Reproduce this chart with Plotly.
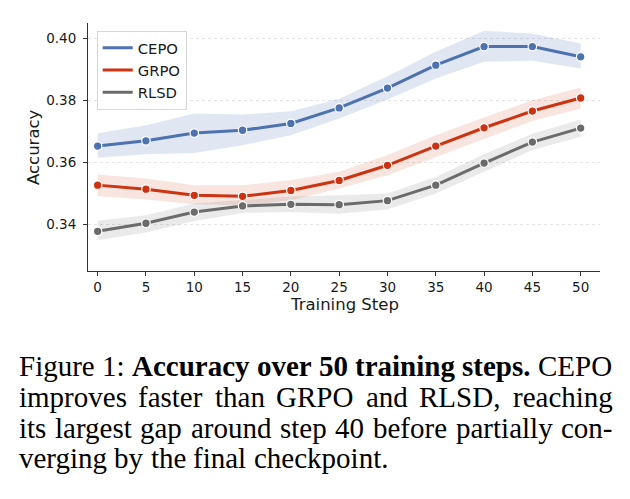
import plotly.graph_objects as go

# ---------------- data ----------------
steps = [0, 5, 10, 15, 20, 25, 30, 35, 40, 45, 50]
series_names = ["CEPO", "GRPO", "RLSD"]

cepo = [0.3653, 0.3670, 0.3695, 0.3704, 0.3726, 0.3776, 0.3840, 0.3914, 0.3974, 0.3974, 0.3941]
cepo_lo = [0.3615, 0.3627, 0.3631, 0.3656, 0.3688, 0.3742, 0.3803, 0.3871, 0.3925, 0.3928, 0.3903]
cepo_hi = [0.3694, 0.3720, 0.3758, 0.3755, 0.3765, 0.3806, 0.3878, 0.3957, 0.4025, 0.4016, 0.3984]

grpo = [0.3527, 0.3514, 0.3494, 0.3491, 0.3510, 0.3542, 0.3591, 0.3653, 0.3712, 0.3766, 0.3808]
grpo_lo = [0.3491, 0.3481, 0.3465, 0.3462, 0.3478, 0.3516, 0.3559, 0.3618, 0.3677, 0.3734, 0.3774]
grpo_hi = [0.3561, 0.3548, 0.3527, 0.3527, 0.3543, 0.3570, 0.3624, 0.3688, 0.3745, 0.3801, 0.3842]

rlsd = [0.3378, 0.3404, 0.3440, 0.3460, 0.3465, 0.3464, 0.3477, 0.3527, 0.3598, 0.3666, 0.3711]
rlsd_lo = [0.3349, 0.3374, 0.3411, 0.3437, 0.3440, 0.3435, 0.3448, 0.3500, 0.3570, 0.3640, 0.3683]
rlsd_hi = [0.3412, 0.3430, 0.3468, 0.3478, 0.3490, 0.3494, 0.3500, 0.3553, 0.3627, 0.3693, 0.3739]

x_ticks = [0, 5, 10, 15, 20, 25, 30, 35, 40, 45, 50]
y_ticks = [0.34, 0.36, 0.38, 0.40]

caption_lines = [
    [("Figure", False), ("1:", False), ("Accuracy", True), ("over", True), ("50", True),
     ("training", True), ("steps.", True), ("CEPO", False)],
    [("improves", False), ("faster", False), ("than", False), ("GRPO", False), ("and", False),
     ("RLSD,", False), ("reaching", False)],
    [("its", False), ("largest", False), ("gap", False), ("around", False), ("step", False),
     ("40", False), ("before", False), ("partially", False), ("con-", False)],
    [("verging", False), ("by", False), ("the", False), ("final", False), ("checkpoint.", False)],
]

# ---------------- styles ----------------
colors = {"CEPO": "#4C72B0", "GRPO": "#CC3311", "RLSD": "#6B6B6B"}
bands = {"CEPO": "rgba(76,114,176,0.17)", "GRPO": "rgba(204,51,17,0.13)", "RLSD": "rgba(107,107,107,0.14)"}
values = {"CEPO": (cepo, cepo_lo, cepo_hi), "GRPO": (grpo, grpo_lo, grpo_hi), "RLSD": (rlsd, rlsd_lo, rlsd_hi)}

W, H = 630, 499
L, R, T, B = 88, 30, 23, 228
PW, PH = W - L - R, H - T - B


def px_x(px):
    return (px - L) / PW


def px_y(py):
    return (H - B - py) / PH


fig = go.Figure()
for name in series_names:
    mid, lo, hi = values[name]
    fig.add_trace(go.Scatter(x=steps, y=hi, mode="lines", line=dict(width=0, color=bands[name]),
                             showlegend=False, hoverinfo="skip"))
    fig.add_trace(go.Scatter(x=steps, y=lo, mode="lines", line=dict(width=0, color=bands[name]),
                             fill="tonexty", fillcolor=bands[name], showlegend=False, hoverinfo="skip"))
    fig.add_trace(go.Scatter(x=steps, y=mid, mode="lines+markers", name=name, showlegend=False,
                             line=dict(color=colors[name], width=3),
                             marker=dict(size=8.5, color=colors[name], line=dict(color="white", width=1.2))))

for name in series_names:
    fig.add_trace(go.Scatter(x=[None], y=[None], mode="lines", name=name,
                             line=dict(color=colors[name], width=3)))

axis_common = dict(showline=True, linecolor="#333333", linewidth=1.1, ticks="outside", ticklen=4,
                   tickwidth=1, tickcolor="#333333", mirror=False, zeroline=False,
                   tickfont=dict(family="DejaVu Sans", size=13.5, color="#1a1a1a"))

fig.update_xaxes(range=[-1, 52], tickvals=x_ticks, showgrid=False, **axis_common)
fig.update_yaxes(range=[0.325, 0.405], tickvals=y_ticks, tickformat=".2f", showgrid=True,
                 gridcolor="#e4e4e4", gridwidth=0.8, griddash="dot", ticklabelstandoff=4, **axis_common)

annotations = [
    dict(text="Accuracy", x=px_x(33), y=0.5, xref="paper", yref="paper", textangle=-90,
         showarrow=False, xanchor="center", yanchor="middle",
         font=dict(family="DejaVu Sans", size=16.5, color="#1a1a1a")),
    dict(text="Training Step", x=0.5, y=px_y(304.5), xref="paper", yref="paper",
         showarrow=False, xanchor="center", yanchor="middle",
         font=dict(family="DejaVu Sans", size=16.5, color="#1a1a1a")),
]

# caption: justified text built word by word (Times metrics; Liberation Serif is metric compatible)
roman = {" ": 250, "a": 444, "b": 500, "c": 444, "d": 500, "e": 444, "f": 333, "g": 500, "h": 500,
         "i": 278, "k": 500, "l": 278, "m": 778, "n": 500, "o": 500, "p": 500, "r": 333, "s": 389,
         "t": 278, "u": 500, "v": 500, "y": 500, ":": 278, ",": 250, ".": 250, "-": 333,
         "C": 667, "E": 611, "F": 556, "G": 722, "L": 611, "O": 722, "P": 556, "R": 667, "S": 556,
         "D": 722}
bold = {"A": 722, "c": 444, "u": 556, "r": 444, "a": 500, "y": 500, "o": 500, "v": 500, "e": 444,
        "t": 333, "i": 278, "n": 556, "g": 500, "s": 389, "p": 556, ".": 250}
CAP_FS = 29
x0, x1 = 17.5, 611.5
baselines = [377, 407.7, 438.4, 469]


def word_w(word, is_bold):
    tbl = bold if is_bold else roman
    return sum(tbl.get(ch, 500) for ch in word) / 1000 * CAP_FS


for li, words in enumerate(caption_lines):
    widths = [word_w(w, b) for w, b in words]
    if li < len(caption_lines) - 1:
        gap = (x1 - x0 - sum(widths)) / (len(words) - 1)
    else:
        gap = 0.25 * CAP_FS
    xp = x0
    for (w, b), ww in zip(words, widths):
        annotations.append(dict(text=f"<b>{w}</b>" if b else w, x=px_x(xp),
                                y=px_y(baselines[li] + 0.216 * CAP_FS), xref="paper", yref="paper",
                                showarrow=False, xanchor="left", yanchor="bottom", borderpad=0,
                                font=dict(family="Liberation Serif", size=CAP_FS, color="#000000")))
        xp += ww + gap

fig.update_layout(
    width=W, height=H, margin=dict(l=L, r=R, t=T, b=B, autoexpand=False),
    paper_bgcolor="white", plot_bgcolor="white",
    font=dict(family="DejaVu Sans", color="#1a1a1a"),
    legend=dict(x=px_x(96.7), y=px_y(30.7), xanchor="left", yanchor="top",
                bgcolor="rgba(255,255,255,0.85)", bordercolor="#d6d6d6", borderwidth=1,
                font=dict(family="DejaVu Sans", size=14.8, color="#1a1a1a"), traceorder="normal"),
    annotations=annotations,
)

fig.write_html("out.html")
